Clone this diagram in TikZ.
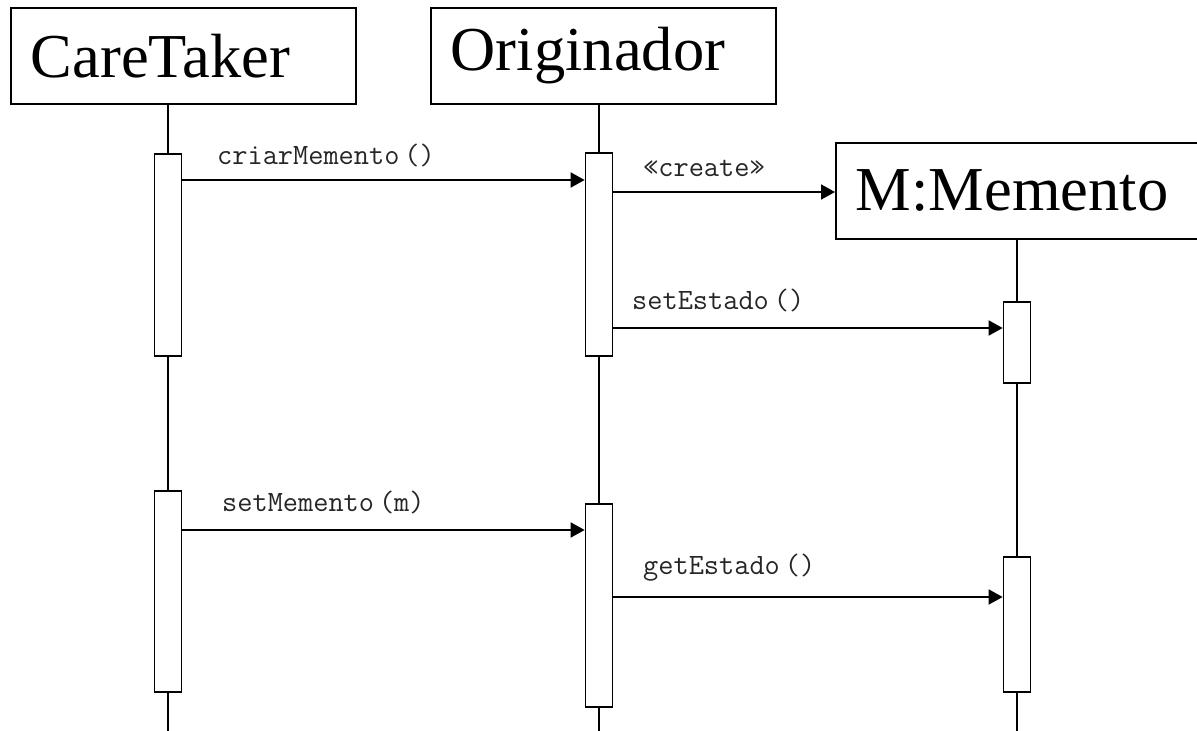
\documentclass[tikz,border=0pt]{standalone}
\usepackage{fontspec}
\usetikzlibrary{arrows.meta}
\newfontfamily\headfont{Liberation Serif}
\tikzset{
	head/.style={draw, line width=1.7pt, anchor=north west, minimum height=96pt, inner xsep=20pt, inner ysep=0pt, align=left, font=\headfont\fontsize{62.5}{70}\selectfont},
	act/.style={draw, fill=white, line width=1.7pt, minimum width=27pt, inner sep=0pt},
	life/.style={line width=1.7pt},
	msg/.style={line width=1.7pt, -{Triangle[length=14pt,width=15pt]}},
	lbl/.style={anchor=west, inner sep=0pt, text=black!85, font=\ttfamily\fontsize{29.5}{32}\selectfont}
}
\begin{document}
\begin{tikzpicture}[x=1pt,y=-1pt]
		\useasboundingbox (0,0) rectangle (1197,731);
		\node[head, text width=305pt] (CT) at (10,7) {CareTaker};
		\node[head, text width=305pt] (OR) at (430,7) {Originador};
		\node[head, text width=325pt] (MM) at (835,142) {M:Memento};
		\node[act, minimum height=202pt] (ct1) at (168,255) {};
		\node[act, minimum height=201pt] (ct2) at (168,591.5) {};
		\node[act, minimum height=203pt] (or1) at (599,254.5) {};
		\node[act, minimum height=203pt] (or2) at (599,605.5) {};
		\node[act, minimum height=81pt] (mm1) at (1017,342.5) {};
		\node[act, minimum height=135pt] (mm2) at (1017,624.5) {};
		\coordinate (end) at (0,735);
		\draw[life] (ct1 |- CT.south) -- (ct1.north);
		\draw[life] (ct1.south) -- (ct2.north);
		\draw[life] (ct2.south) -- (ct2 |- end);
		\draw[life] (or1 |- OR.south) -- (or1.north);
		\draw[life] (or1.south) -- (or2.north);
		\draw[life] (or2.south) -- (or2 |- end);
		\draw[life] (mm1 |- MM.south) -- (mm1.north);
		\draw[life] (mm1.south) -- (mm2.north);
		\draw[life] (mm2.south) -- (mm2 |- end);
		\coordinate (m1) at (0,180);
		\coordinate (m2) at (0,192);
		\coordinate (m3) at (0,328);
		\coordinate (m4) at (0,530);
		\coordinate (m5) at (0,597);
		\draw[msg] (ct1.east |- m1) -- (or1.west |- m1);
		\draw[msg] (or1.east |- m2) -- (MM.west |- m2);
		\draw[msg] (or1.east |- m3) -- (mm1.west |- m3);
		\draw[msg] (ct2.east |- m4) -- (or2.west |- m4);
		\draw[msg] (or2.east |- m5) -- (mm2.west |- m5);
		\node[lbl] (L1) at (217,155) {criarMemento\,()};
		\node[lbl] (L2) at (643,168) {«create»};
		\node[lbl] (L3) at (632,300) {setEstado\,()};
		\node[lbl] (L4) at (222,502) {setMemento\,(m)};
		\node[lbl] (L5) at (643,568) {getEstado\,()};
		\end{tikzpicture}
\end{document}
